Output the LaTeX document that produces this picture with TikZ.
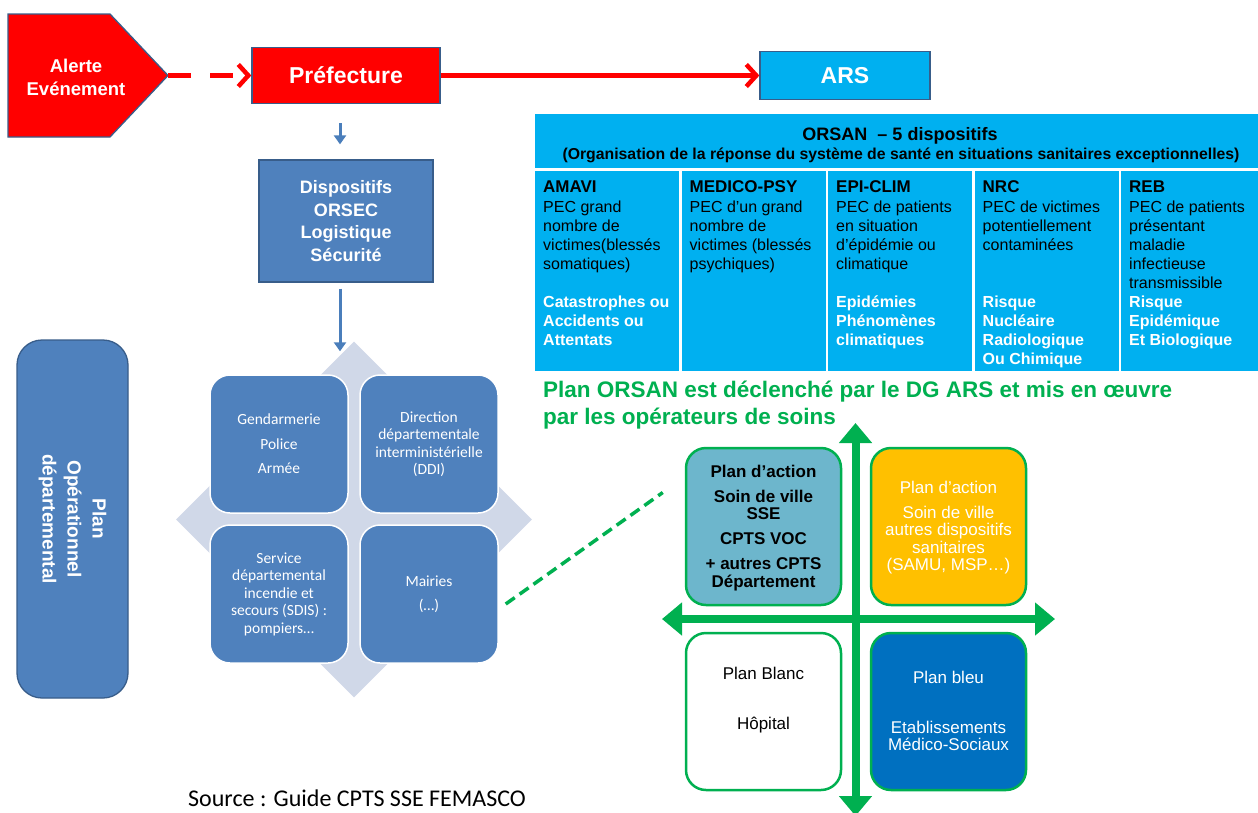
\documentclass[tikz,border=0pt]{standalone}
\usepackage{fontspec}
\setmainfont{Liberation Sans}
\newfontfamily\calib{Carlito}
\usetikzlibrary{arrows.meta,shapes.geometric,calc}
\definecolor{redfill}{HTML}{FF0000}
\definecolor{bordblue}{HTML}{385D8A}
\definecolor{cyanbox}{HTML}{00B0F0}
\definecolor{bluebox}{HTML}{4F81BD}
\definecolor{arrowblue}{HTML}{4A7EBB}
\definecolor{diamondc}{HTML}{D0D8E8}
\definecolor{greenc}{HTML}{00B050}
\definecolor{tealbox}{HTML}{6DB6CC}
\definecolor{orangebox}{HTML}{FFC000}
\definecolor{darkblue}{HTML}{0070C0}
\newcommand\fsz[2]{\fontsize{#1}{#2}\selectfont}
\begin{document}
\begin{tikzpicture}[x=1pt,y=-1pt,
  edge/.style={draw=bordblue,line width=1.3pt},
  redbox/.style={edge,fill=redfill,text=white,font=\bfseries\fsz{23}{27},inner sep=0},
  bluerect/.style={edge,fill=bluebox,text=white,inner sep=0},
  barrow/.style={draw=arrowblue,line width=3pt,-{Triangle[length=9pt,width=12pt]}},
  rarrow/.style={draw=redfill,line width=4.5pt,-{Straight Barb[length=10pt,width=22pt]}},
  sq/.style={draw=white,line width=1.5pt,fill=bluebox,rounded corners=20pt,minimum width=138pt,minimum height=138pt,inner sep=0,text=white,align=center,font=\calib\fsz{15.5}{17.5}},
  cell/.style={draw=white,line width=2.5pt,fill=cyanbox,inner sep=0},
  ctitle/.style={anchor=base west,inner sep=0,font=\bfseries\fsz{17}{19}},
  cbody/.style={anchor=base west,inner sep=0,align=left,font=\fsz{16}{19}},
  cbold/.style={anchor=base west,inner sep=0,align=left,text=white,font=\bfseries\fsz{16}{19}},
  quad/.style={draw=greenc,line width=2.5pt,rounded corners=20pt,minimum width=155pt,minimum height=157pt,inner sep=0},
  qtext/.style={anchor=base,inner sep=0,align=center,font=\fsz{17}{17.5}},
  garrow/.style={draw=greenc,line width=8pt,{Triangle[length=20pt,width=32pt]}-{Triangle[length=20pt,width=32pt]}}
]
\useasboundingbox (0,0) rectangle (1258,812);
\fill[white] (0,0) rectangle (1258,812);

% Alerte pentagon
\draw[edge,fill=redfill] (8,14) -- (110,14) -- (168,75.5) -- (110,137) -- (8,137) -- cycle;
\coordinate (alertTip) at (168,75.5);
\node[text=white,align=center,font=\bfseries\fsz{18.5}{23}] (alerte) at (76,77) {Alerte\\Evénement};

% Prefecture and ARS
\node[redbox,minimum width=188pt,minimum height=56pt] (pref) at (346,75.5) {Préfecture};
\node[edge,fill=cyanbox,text=white,font=\bfseries\fsz{23}{27},inner sep=0,minimum width=170pt,minimum height=48pt] (ars) at (845,75.5) {ARS};
\draw[rarrow,dash pattern=on 23pt off 19pt] (alertTip) -- (pref.west);
\draw[rarrow] (pref.east) -- (ars.west);

% Dispositifs ORSEC
\node[bluerect,minimum width=174pt,minimum height=122pt,align=center,font=\bfseries\fsz{18}{22.5}] (disp) at (346,221) {Dispositifs\\ORSEC\\Logistique\\Sécurité};
\draw[barrow] ($(pref.south)+(-6,19)$) -- ($(disp.north)+(-6,-15)$);

% diamond and squares
\node[diamond,fill=diamondc,minimum width=356pt,minimum height=356pt,inner sep=0] (diam) at (354,519.5) {};
\draw[barrow] ($(disp.south)+(-6,6)$) -- ($(disp.south |- diam.north)+(-6,10)$);
\node[sq] (sq1) at (279,444) {Gendarmerie\\[7pt]Police\\[7pt]Armée};
\node[sq] (sq2) at (429,444) {Direction\\départementale\\interministérielle\\(DDI)};
\node[sq] (sq3) at (279,594) {Service\\départemental\\incendie et\\secours (SDIS) :\\pompiers…};
\node[sq] (sq4) at (429,594) {Mairies\\[7pt](…)};

% Plan operationnel
\node[edge,fill=bluebox,rounded corners=25pt,rotate=-90,minimum width=358pt,minimum height=111pt,inner sep=0,text=white,align=center,font=\bfseries\fsz{19}{25}] (planop) at (72.5,519) {Plan\\Opérationnel\\départemental};

% ORSAN table
\node[cell,minimum width=733pt,minimum height=57pt] (orsanhead) at (900.5,141) {};
\node[anchor=base,inner sep=0,font=\bfseries\fsz{18}{20}] (orsant) at (900,140) {ORSAN\ \ – 5 dispositifs};
\node[anchor=base,inner sep=0,font=\bfseries\fsz{15.8}{17}] (orsans) at (901,159) {(Organisation de la réponse du système de santé en situations sanitaires exceptionnelles)};
\foreach \i/\x in {1/607.25,2/753.75,3/900.25,4/1046.75,5/1193.25}{
  \node[cell,minimum width=146.5pt,minimum height=203pt] (col\i) at (\x,271) {};
}
\node[ctitle] (t1) at (543,192) {AMAVI};
\node[ctitle] (t2) at (689.5,192) {MEDICO-PSY};
\node[ctitle] (t3) at (836,192) {EPI-CLIM};
\node[ctitle] (t4) at (982.5,192) {NRC};
\node[ctitle] (t5) at (1129,192) {REB};
\node[cbody] (b1) at (543,269.6) {PEC grand\\nombre de\\victimes(blessés\\somatiques)};
\node[cbody] (b2) at (689.5,269.6) {PEC d’un grand\\nombre de\\victimes (blessés\\psychiques)};
\node[cbody] (b3) at (836,269.6) {PEC de patients\\en situation\\d’épidémie ou\\climatique};
\node[cbody] (b4) at (982.5,250.6) {PEC de victimes\\potentiellement\\contaminées};
\node[cbody] (b5) at (1129,288.6) {PEC de patients\\présentant\\maladie\\infectieuse\\transmissible};
\node[cbold] (r1) at (543,345.6) {Catastrophes ou\\Accidents ou\\Attentats};
\node[cbold] (r3) at (836,345.6) {Epidémies\\Phénomènes\\climatiques};
\node[cbold] (r4) at (982.5,364.6) {Risque\\Nucléaire\\Radiologique\\Ou Chimique};
\node[cbold] (r5) at (1129,345.6) {Risque\\Epidémique\\Et Biologique};

% green text
\node[anchor=base west,inner sep=0,align=left,text=greenc,font=\bfseries\fsz{22.5}{27}] (gtext) at (543,424) {Plan ORSAN est déclenché par le DG ARS et mis en œuvre\\par les opérateurs de soins};

% quadrant
\node[quad,fill=tealbox] (qtl) at (763.5,526.5) {};
\node[quad,fill=orangebox] (qtr) at (948.5,526.5) {};
\node[quad,fill=white] (qbl) at (763.5,711.5) {};
\node[quad,fill=darkblue] (qbr) at (948.5,711.5) {};
\draw[garrow] (662,619) -- (1055,619);
\draw[garrow] (855.5,423) -- (855.5,816);
\node[qtext,font=\bfseries\fsz{17}{17.5}] (qtlt) at (763.5,587) {Plan d’action\\[7.5pt]Soin de ville\\SSE\\[7.5pt]CPTS VOC\\[7.5pt]+ autres CPTS\\Département};
\node[qtext,text=white] (qtrt) at (948.5,570.5) {Plan d’action\\[7.5pt]Soin de ville\\autres dispositifs\\sanitaires\\(SAMU, MSP…)};
\node[qtext] (qblt) at (763.5,729) {Plan Blanc\\[32.5pt]Hôpital};
\node[qtext,text=white] (qbrt) at (948.5,750.5) {Plan bleu\\[32.5pt]Etablissements\\Médico-Sociaux};

% dashed green link
\draw[greenc,line width=3.5pt,dash pattern=on 11pt off 6pt] ($(sq4.east)+(7,10)$) -- ($(qtl.west)+(-22,-34)$);

% source
\node[anchor=base west,inner sep=0,font=\calib\fsz{24}{26}] (source) at (188,806.5) {Source : Guide CPTS SSE FEMASCO};
\end{tikzpicture}
\end{document}
